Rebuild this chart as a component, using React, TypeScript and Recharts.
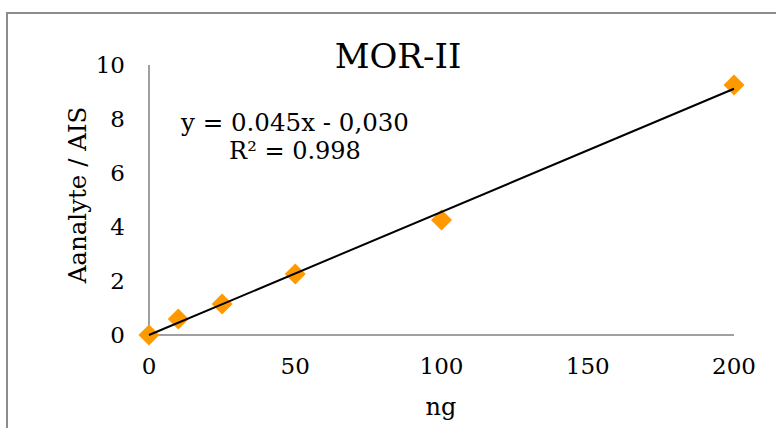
import React from 'react';
import { ScatterChart, Scatter, XAxis, YAxis } from 'recharts';

const X_VALUES = [0, 10, 25, 50, 100, 200];
const Y_VALUES = [0.0, 0.59, 1.15, 2.26, 4.26, 9.26];
const X_TICKS = [0, 50, 100, 150, 200];
const Y_TICKS = [0, 2, 4, 6, 8, 10];
const TREND_X = [0, 200];
const TREND_Y = [0.0, 9.12];
const TITLE = 'MOR-II';
const EQUATION = 'y = 0.045x - 0,030';
const R2_TEXT = 'R² = 0.998';
const X_LABEL = 'ng';
const Y_LABEL = 'Aanalyte / AIS';

const points = X_VALUES.map((x, i) => ({ x, y: Y_VALUES[i] }));
const trend = TREND_X.map((x, i) => ({ x, y: TREND_Y[i] }));

const FONT = '"DejaVu Serif", serif';
const ORANGE = '#FF9900';
const AXIS = '#A0A0A0';

const Diamond = (props: any) => {
  const { cx, cy } = props;
  if (cx == null || cy == null) return null;
  const r = 10.5;
  return (
    <polygon
      points={`${cx},${cy - r} ${cx + r},${cy} ${cx},${cy + r} ${cx - r},${cy}`}
      fill={ORANGE}
    />
  );
};

const Empty = () => <g />;

const txt = (size: number) => ({ fontFamily: FONT, fontSize: size, fill: '#000' });

export default function App() {
  return (
    <div style={{ position: 'fixed', left: 0, top: 0, width: 776, height: 428, background: '#fff' }}>
      <ScatterChart
        width={776}
        height={428}
        margin={{ top: 65, right: 42, bottom: 33, left: 0 }}
      >
        <XAxis
          type="number"
          dataKey="x"
          domain={[0, 200]}
          ticks={X_TICKS}
          tickLine={false}
          tickSize={0}
          tickMargin={23}
          height={60}
          stroke={AXIS}
          strokeWidth={2}
          tick={{ fill: '#000', fontFamily: FONT, fontSize: 23 }}
        />
        <YAxis
          type="number"
          dataKey="y"
          domain={[0, 10]}
          ticks={Y_TICKS}
          tickLine={false}
          tickSize={0}
          tickMargin={24}
          width={149}
          stroke={AXIS}
          strokeWidth={2}
          tick={{ fill: '#000', fontFamily: FONT, fontSize: 23 }}
        />
        <Scatter data={points} shape={<Diamond />} isAnimationActive={false} />
        <Scatter
          data={trend}
          shape={<Empty />}
          line={{ stroke: '#000', strokeWidth: 2 }}
          isAnimationActive={false}
        />
      </ScatterChart>
      <svg
        width={776}
        height={428}
        style={{ position: 'absolute', left: 0, top: 0, pointerEvents: 'none' }}
      >
        <line x1={7} y1={13} x2={7} y2={428} stroke="#8C8C8C" strokeWidth={2} />
        <line x1={6} y1={13} x2={776} y2={13} stroke="#8C8C8C" strokeWidth={2} />
        <text x={398} y={68} textAnchor="middle" style={txt(34)}>
          {TITLE}
        </text>
        <text x={295} y={131} textAnchor="middle" style={txt(24.5)}>
          {EQUATION}
        </text>
        <text x={295} y={159} textAnchor="middle" style={txt(24)}>
          {R2_TEXT}
        </text>
        <text x={441} y={415} textAnchor="middle" style={txt(24)}>
          {X_LABEL}
        </text>
        <text
          x={0}
          y={0}
          transform="translate(86,195) rotate(-90)"
          textAnchor="middle"
          style={txt(24.5)}
        >
          {Y_LABEL}
        </text>
      </svg>
    </div>
  );
}
